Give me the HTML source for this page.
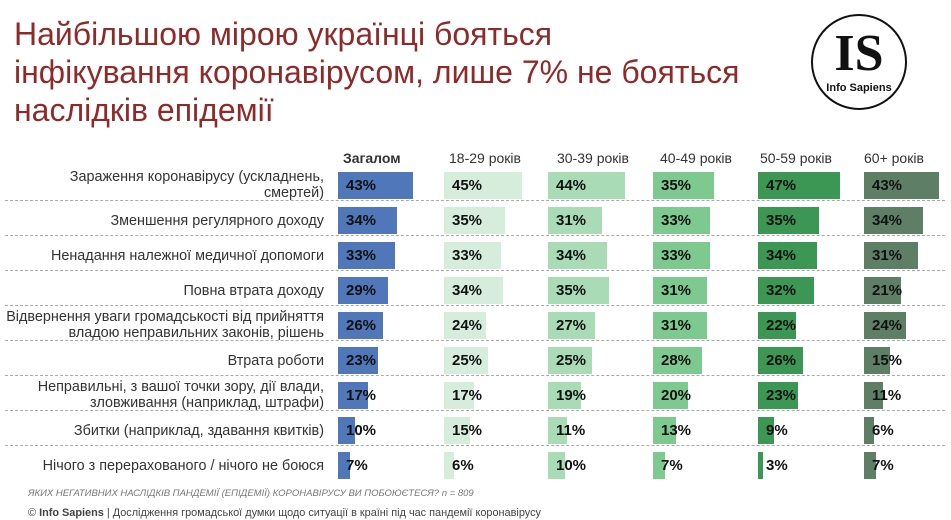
<!DOCTYPE html>
<html><head><meta charset="utf-8"><style>
body{margin:0;width:951px;height:520px;background:#fff;position:relative;overflow:hidden;font-family:"Liberation Sans","DejaVu Sans",sans-serif;}
.t{position:absolute;left:14px;top:15px;font-size:32px;line-height:38px;color:#8e2a2a;}
.logo{position:absolute;left:811px;top:14px;width:92px;height:92px;border:2px solid #111;border-radius:50%;}
.logo .is{position:absolute;left:0;width:92px;top:10px;text-align:center;font-family:"Liberation Serif",serif;font-weight:bold;font-size:52px;line-height:56px;color:#111;}
.logo .s{position:absolute;left:0;width:92px;top:66px;text-align:center;font-size:11px;font-weight:bold;color:#111;}
.h{position:absolute;top:150px;font-size:14px;color:#333;}
.r{position:absolute;left:0;width:951px;height:35px;}
.sep{position:absolute;left:5px;right:6px;top:31px;border-top:1px dashed #aaa;}
.l{position:absolute;right:627px;width:330px;text-align:right;font-size:14.4px;line-height:16px;color:#333;}
.b{position:absolute;top:3px;height:27px;}
.v{position:absolute;top:3px;height:27px;line-height:27px;font-size:15px;font-weight:bold;color:#111;padding-left:8px;}
.c0{background:#5077b9}.c1{background:#d6eddc}.c2{background:#a9dbb6}.c3{background:#7ec990}.c4{background:#3c9654}.c5{background:#5e7f66}
.f1{position:absolute;left:28px;top:488px;font-size:9.5px;font-style:italic;color:#777;}
.f2{position:absolute;left:28px;top:507px;font-size:10.9px;color:#444;}
</style></head><body>
<div class="t">Найбільшою мірою українці бояться<br>інфікування коронавірусом, лише 7% не бояться<br>наслідків епідемії</div>
<div class="logo"><div class="is">IS</div><div class="s">Info Sapiens</div></div>
<div class="h" style="left:343px;font-weight:bold">Загалом</div>
<div class="h" style="left:449px">18-29 років</div>
<div class="h" style="left:557px">30-39 років</div>
<div class="h" style="left:660px">40-49 років</div>
<div class="h" style="left:760px">50-59 років</div>
<div class="h" style="left:864px">60+ років</div>

<div class="r" style="top:169px"><div class="l" style="top:0px">Зараження коронавірусу (ускладнень,<br>смертей)</div>
<div class="b c0" style="left:338px;width:75px"></div><div class="v" style="left:338px">43%</div>
<div class="b c1" style="left:444px;width:78px"></div><div class="v" style="left:444px">45%</div>
<div class="b c2" style="left:548px;width:77px"></div><div class="v" style="left:548px">44%</div>
<div class="b c3" style="left:653px;width:61px"></div><div class="v" style="left:653px">35%</div>
<div class="b c4" style="left:758px;width:82px"></div><div class="v" style="left:758px">47%</div>
<div class="b c5" style="left:864px;width:75px"></div><div class="v" style="left:864px">43%</div><div class="sep"></div></div>

<div class="r" style="top:204px"><div class="l" style="top:9px">Зменшення регулярного доходу</div>
<div class="b c0" style="left:338px;width:59px"></div><div class="v" style="left:338px">34%</div>
<div class="b c1" style="left:444px;width:61px"></div><div class="v" style="left:444px">35%</div>
<div class="b c2" style="left:548px;width:54px"></div><div class="v" style="left:548px">31%</div>
<div class="b c3" style="left:653px;width:57px"></div><div class="v" style="left:653px">33%</div>
<div class="b c4" style="left:758px;width:61px"></div><div class="v" style="left:758px">35%</div>
<div class="b c5" style="left:864px;width:59px"></div><div class="v" style="left:864px">34%</div><div class="sep"></div></div>

<div class="r" style="top:239px"><div class="l" style="top:9px">Ненадання належної медичної допомоги</div>
<div class="b c0" style="left:338px;width:57px"></div><div class="v" style="left:338px">33%</div>
<div class="b c1" style="left:444px;width:57px"></div><div class="v" style="left:444px">33%</div>
<div class="b c2" style="left:548px;width:59px"></div><div class="v" style="left:548px">34%</div>
<div class="b c3" style="left:653px;width:57px"></div><div class="v" style="left:653px">33%</div>
<div class="b c4" style="left:758px;width:59px"></div><div class="v" style="left:758px">34%</div>
<div class="b c5" style="left:864px;width:54px"></div><div class="v" style="left:864px">31%</div><div class="sep"></div></div>

<div class="r" style="top:274px"><div class="l" style="top:9px">Повна втрата доходу</div>
<div class="b c0" style="left:338px;width:50px"></div><div class="v" style="left:338px">29%</div>
<div class="b c1" style="left:444px;width:59px"></div><div class="v" style="left:444px">34%</div>
<div class="b c2" style="left:548px;width:61px"></div><div class="v" style="left:548px">35%</div>
<div class="b c3" style="left:653px;width:54px"></div><div class="v" style="left:653px">31%</div>
<div class="b c4" style="left:758px;width:56px"></div><div class="v" style="left:758px">32%</div>
<div class="b c5" style="left:864px;width:37px"></div><div class="v" style="left:864px">21%</div><div class="sep"></div></div>

<div class="r" style="top:309px"><div class="l" style="top:0px">Відвернення уваги громадськості від прийняття<br>владою неправильних законів, рішень</div>
<div class="b c0" style="left:338px;width:45px"></div><div class="v" style="left:338px">26%</div>
<div class="b c1" style="left:444px;width:42px"></div><div class="v" style="left:444px">24%</div>
<div class="b c2" style="left:548px;width:47px"></div><div class="v" style="left:548px">27%</div>
<div class="b c3" style="left:653px;width:54px"></div><div class="v" style="left:653px">31%</div>
<div class="b c4" style="left:758px;width:38px"></div><div class="v" style="left:758px">22%</div>
<div class="b c5" style="left:864px;width:42px"></div><div class="v" style="left:864px">24%</div><div class="sep"></div></div>

<div class="r" style="top:344px"><div class="l" style="top:9px">Втрата роботи</div>
<div class="b c0" style="left:338px;width:40px"></div><div class="v" style="left:338px">23%</div>
<div class="b c1" style="left:444px;width:44px"></div><div class="v" style="left:444px">25%</div>
<div class="b c2" style="left:548px;width:44px"></div><div class="v" style="left:548px">25%</div>
<div class="b c3" style="left:653px;width:49px"></div><div class="v" style="left:653px">28%</div>
<div class="b c4" style="left:758px;width:45px"></div><div class="v" style="left:758px">26%</div>
<div class="b c5" style="left:864px;width:26px"></div><div class="v" style="left:864px">15%</div><div class="sep"></div></div>

<div class="r" style="top:379px"><div class="l" style="top:0px">Неправильні, з вашої точки зору, дії влади,<br>зловживання (наприклад, штрафи)</div>
<div class="b c0" style="left:338px;width:30px"></div><div class="v" style="left:338px">17%</div>
<div class="b c1" style="left:444px;width:30px"></div><div class="v" style="left:444px">17%</div>
<div class="b c2" style="left:548px;width:33px"></div><div class="v" style="left:548px">19%</div>
<div class="b c3" style="left:653px;width:35px"></div><div class="v" style="left:653px">20%</div>
<div class="b c4" style="left:758px;width:40px"></div><div class="v" style="left:758px">23%</div>
<div class="b c5" style="left:864px;width:19px"></div><div class="v" style="left:864px">11%</div><div class="sep"></div></div>

<div class="r" style="top:414px"><div class="l" style="top:9px">Збитки (наприклад, здавання квитків)</div>
<div class="b c0" style="left:338px;width:17px"></div><div class="v" style="left:338px">10%</div>
<div class="b c1" style="left:444px;width:26px"></div><div class="v" style="left:444px">15%</div>
<div class="b c2" style="left:548px;width:19px"></div><div class="v" style="left:548px">11%</div>
<div class="b c3" style="left:653px;width:23px"></div><div class="v" style="left:653px">13%</div>
<div class="b c4" style="left:758px;width:16px"></div><div class="v" style="left:758px">9%</div>
<div class="b c5" style="left:864px;width:10px"></div><div class="v" style="left:864px">6%</div><div class="sep"></div></div>

<div class="r" style="top:449px"><div class="l" style="top:9px">Нічого з перерахованого / нічого не боюся</div>
<div class="b c0" style="left:338px;width:12px"></div><div class="v" style="left:338px">7%</div>
<div class="b c1" style="left:444px;width:10px"></div><div class="v" style="left:444px">6%</div>
<div class="b c2" style="left:548px;width:17px"></div><div class="v" style="left:548px">10%</div>
<div class="b c3" style="left:653px;width:12px"></div><div class="v" style="left:653px">7%</div>
<div class="b c4" style="left:758px;width:5px"></div><div class="v" style="left:758px">3%</div>
<div class="b c5" style="left:864px;width:12px"></div><div class="v" style="left:864px">7%</div></div>

<div class="f1">ЯКИХ НЕГАТИВНИХ НАСЛІДКІВ ПАНДЕМІЇ (ЕПІДЕМІЇ) КОРОНАВІРУСУ ВИ ПОБОЮЄТЕСЯ? n = 809</div>
<div class="f2">© <b>Info Sapiens</b> | Дослідження громадської думки щодо ситуації в країні під час пандемії коронавірусу</div>
</body></html>
